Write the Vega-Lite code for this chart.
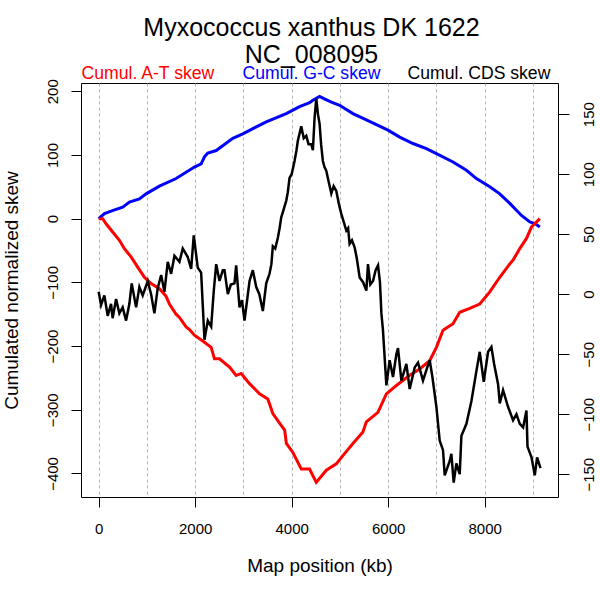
{
  "$schema": "https://vega.github.io/schema/vega-lite/v6.json",
  "width": 477,
  "height": 414,
  "autosize": {"type": "none"},
  "padding": {"left": 81, "top": 83, "right": 42, "bottom": 103},
  "background": "white",
  "title": {
    "text": ["Myxococcus xanthus DK 1622", "NC_008095"],
    "fontSize": 25,
    "fontWeight": "normal",
    "font": "Liberation Sans",
    "lineHeight": 27,
    "anchor": "middle",
    "color": "black",
    "dx": -8,
    "offset": -3
  },
  "datasets": {
    "gc": [
      {"pos": 0, "skew": 0}, {"pos": 120, "skew": 8}, {"pos": 300, "skew": 13}, {"pos": 498, "skew": 18},
      {"pos": 637, "skew": 26}, {"pos": 844, "skew": 31}, {"pos": 983, "skew": 39}, {"pos": 1259, "skew": 51},
      {"pos": 1605, "skew": 63}, {"pos": 1985, "skew": 81}, {"pos": 2124, "skew": 86}, {"pos": 2193, "skew": 97},
      {"pos": 2262, "skew": 103}, {"pos": 2436, "skew": 107}, {"pos": 2780, "skew": 126}, {"pos": 2988, "skew": 133},
      {"pos": 3266, "skew": 144}, {"pos": 3473, "skew": 152}, {"pos": 3888, "skew": 165}, {"pos": 4164, "skew": 176},
      {"pos": 4371, "skew": 182}, {"pos": 4440, "skew": 186}, {"pos": 4579, "skew": 192}, {"pos": 4680, "skew": 188},
      {"pos": 4822, "skew": 183}, {"pos": 4994, "skew": 178}, {"pos": 5270, "skew": 165}, {"pos": 5548, "skew": 155},
      {"pos": 5996, "skew": 139}, {"pos": 6239, "skew": 128}, {"pos": 6515, "skew": 118}, {"pos": 6792, "skew": 110},
      {"pos": 7000, "skew": 102}, {"pos": 7344, "skew": 89}, {"pos": 7622, "skew": 76}, {"pos": 7829, "skew": 63},
      {"pos": 8106, "skew": 50}, {"pos": 8313, "skew": 39}, {"pos": 8521, "skew": 24}, {"pos": 8763, "skew": 5},
      {"pos": 8936, "skew": -5}, {"pos": 9050, "skew": -8}, {"pos": 9143, "skew": -13}
    ],
    "at": [
      {"pos": 0, "skew": 0}, {"pos": 83, "skew": 0}, {"pos": 154, "skew": -8}, {"pos": 290, "skew": -21},
      {"pos": 430, "skew": -34}, {"pos": 533, "skew": -47}, {"pos": 672, "skew": -60}, {"pos": 809, "skew": -76},
      {"pos": 948, "skew": -92}, {"pos": 1087, "skew": -102}, {"pos": 1259, "skew": -110}, {"pos": 1398, "skew": -122},
      {"pos": 1467, "skew": -134}, {"pos": 1605, "skew": -150}, {"pos": 1674, "skew": -155}, {"pos": 1813, "skew": -170},
      {"pos": 1882, "skew": -174}, {"pos": 1985, "skew": -183}, {"pos": 2193, "skew": -194}, {"pos": 2332, "skew": -202},
      {"pos": 2400, "skew": -220}, {"pos": 2504, "skew": -220}, {"pos": 2712, "skew": -233}, {"pos": 2850, "skew": -246},
      {"pos": 2954, "skew": -243}, {"pos": 3127, "skew": -259}, {"pos": 3334, "skew": -275}, {"pos": 3506, "skew": -283},
      {"pos": 3610, "skew": -306}, {"pos": 3786, "skew": -325}, {"pos": 3855, "skew": -332}, {"pos": 3890, "skew": -353},
      {"pos": 4025, "skew": -367}, {"pos": 4199, "skew": -393}, {"pos": 4371, "skew": -393}, {"pos": 4510, "skew": -414},
      {"pos": 4718, "skew": -395}, {"pos": 4925, "skew": -385}, {"pos": 5062, "skew": -372}, {"pos": 5270, "skew": -353},
      {"pos": 5477, "skew": -335}, {"pos": 5548, "skew": -319}, {"pos": 5788, "skew": -304}, {"pos": 5963, "skew": -275},
      {"pos": 6170, "skew": -262}, {"pos": 6446, "skew": -246}, {"pos": 6654, "skew": -236}, {"pos": 6861, "skew": -223},
      {"pos": 7000, "skew": -202}, {"pos": 7137, "skew": -175}, {"pos": 7344, "skew": -165}, {"pos": 7483, "skew": -147},
      {"pos": 7690, "skew": -141}, {"pos": 7898, "skew": -134}, {"pos": 8106, "skew": -115}, {"pos": 8313, "skew": -92},
      {"pos": 8521, "skew": -71}, {"pos": 8589, "skew": -65}, {"pos": 8728, "skew": -47}, {"pos": 8867, "skew": -31},
      {"pos": 8971, "skew": -13}, {"pos": 9143, "skew": 0}
    ],
    "cds": [
      {"pos": 0, "skew": 2}, {"pos": 50, "skew": -9}, {"pos": 118, "skew": -1}, {"pos": 187, "skew": -18},
      {"pos": 257, "skew": -8}, {"pos": 290, "skew": -20}, {"pos": 361, "skew": -4}, {"pos": 429, "skew": -16},
      {"pos": 498, "skew": -11}, {"pos": 568, "skew": -22}, {"pos": 637, "skew": -8}, {"pos": 685, "skew": 9},
      {"pos": 776, "skew": -11}, {"pos": 844, "skew": 6}, {"pos": 913, "skew": -1}, {"pos": 1017, "skew": 11},
      {"pos": 1087, "skew": 0}, {"pos": 1155, "skew": -16}, {"pos": 1224, "skew": 5}, {"pos": 1295, "skew": 16},
      {"pos": 1363, "skew": 2}, {"pos": 1432, "skew": 27}, {"pos": 1502, "skew": 17}, {"pos": 1571, "skew": 32},
      {"pos": 1674, "skew": 27}, {"pos": 1743, "skew": 38}, {"pos": 1846, "skew": 31}, {"pos": 1917, "skew": 21},
      {"pos": 1971, "skew": 49}, {"pos": 2054, "skew": 22}, {"pos": 2124, "skew": 18}, {"pos": 2193, "skew": -38},
      {"pos": 2262, "skew": -22}, {"pos": 2332, "skew": -27}, {"pos": 2386, "skew": 3}, {"pos": 2436, "skew": 25},
      {"pos": 2504, "skew": 11}, {"pos": 2573, "skew": 20}, {"pos": 2608, "skew": 20}, {"pos": 2677, "skew": 0},
      {"pos": 2740, "skew": 8}, {"pos": 2815, "skew": 9}, {"pos": 2850, "skew": 24}, {"pos": 2919, "skew": -11},
      {"pos": 2970, "skew": -5}, {"pos": 3023, "skew": -22}, {"pos": 3127, "skew": 11}, {"pos": 3195, "skew": 20},
      {"pos": 3266, "skew": 6}, {"pos": 3330, "skew": 0}, {"pos": 3403, "skew": -14}, {"pos": 3473, "skew": 9},
      {"pos": 3541, "skew": 17}, {"pos": 3580, "skew": 25}, {"pos": 3610, "skew": 40}, {"pos": 3660, "skew": 38},
      {"pos": 3714, "skew": 47}, {"pos": 3750, "skew": 55}, {"pos": 3784, "skew": 64}, {"pos": 3830, "skew": 70},
      {"pos": 3888, "skew": 78}, {"pos": 3920, "skew": 85}, {"pos": 3956, "skew": 97}, {"pos": 4000, "skew": 100},
      {"pos": 4060, "skew": 111}, {"pos": 4100, "skew": 120}, {"pos": 4129, "skew": 128}, {"pos": 4199, "skew": 140},
      {"pos": 4250, "skew": 130}, {"pos": 4303, "skew": 132}, {"pos": 4350, "skew": 125}, {"pos": 4406, "skew": 125},
      {"pos": 4440, "skew": 120}, {"pos": 4475, "skew": 147}, {"pos": 4510, "skew": 163}, {"pos": 4545, "skew": 150},
      {"pos": 4579, "skew": 142}, {"pos": 4610, "skew": 125}, {"pos": 4647, "skew": 111}, {"pos": 4680, "skew": 106},
      {"pos": 4717, "skew": 103}, {"pos": 4760, "skew": 95}, {"pos": 4822, "skew": 84}, {"pos": 4870, "skew": 90},
      {"pos": 4925, "skew": 86}, {"pos": 4980, "skew": 75}, {"pos": 5029, "skew": 67}, {"pos": 5080, "skew": 60},
      {"pos": 5133, "skew": 53}, {"pos": 5170, "skew": 55}, {"pos": 5201, "skew": 42}, {"pos": 5250, "skew": 45},
      {"pos": 5305, "skew": 39}, {"pos": 5350, "skew": 30}, {"pos": 5409, "skew": 14}, {"pos": 5480, "skew": 10},
      {"pos": 5548, "skew": 3}, {"pos": 5582, "skew": 25}, {"pos": 5630, "skew": 8}, {"pos": 5686, "skew": 11},
      {"pos": 5740, "skew": 20}, {"pos": 5790, "skew": 24}, {"pos": 5830, "skew": 10}, {"pos": 5860, "skew": -16},
      {"pos": 5892, "skew": -30}, {"pos": 5963, "skew": -76}, {"pos": 6031, "skew": -55}, {"pos": 6100, "skew": -69},
      {"pos": 6170, "skew": -50}, {"pos": 6204, "skew": -45}, {"pos": 6274, "skew": -72}, {"pos": 6377, "skew": -58},
      {"pos": 6446, "skew": -79}, {"pos": 6550, "skew": -61}, {"pos": 6619, "skew": -57}, {"pos": 6722, "skew": -72},
      {"pos": 6826, "skew": -59}, {"pos": 6861, "skew": -55}, {"pos": 6917, "skew": -69}, {"pos": 7000, "skew": -94},
      {"pos": 7068, "skew": -122}, {"pos": 7137, "skew": -130}, {"pos": 7172, "skew": -151}, {"pos": 7276, "skew": -139},
      {"pos": 7310, "skew": -133}, {"pos": 7358, "skew": -157}, {"pos": 7414, "skew": -141}, {"pos": 7483, "skew": -150},
      {"pos": 7518, "skew": -118}, {"pos": 7622, "skew": -108}, {"pos": 7726, "skew": -89}, {"pos": 7829, "skew": -64},
      {"pos": 7898, "skew": -48}, {"pos": 7981, "skew": -73}, {"pos": 8071, "skew": -48}, {"pos": 8140, "skew": -44},
      {"pos": 8195, "skew": -58}, {"pos": 8278, "skew": -75}, {"pos": 8313, "skew": -91}, {"pos": 8382, "skew": -80},
      {"pos": 8486, "skew": -94}, {"pos": 8589, "skew": -105}, {"pos": 8659, "skew": -100}, {"pos": 8728, "skew": -108},
      {"pos": 8797, "skew": -111}, {"pos": 8866, "skew": -97}, {"pos": 8888, "skew": -127}, {"pos": 8971, "skew": -136},
      {"pos": 9039, "skew": -151}, {"pos": 9087, "skew": -136}, {"pos": 9157, "skew": -145}
    ]
  },
  "encoding": {
    "x": {
      "field": "pos",
      "type": "quantitative",
      "scale": {"domain": [-366, 9520], "nice": false, "zero": false},
      "axis": {
        "values": [0, 1000, 2000, 3000, 4000, 5000, 6000, 7000, 8000, 9000],
        "format": "d",
        "labelExpr": "datum.value % 2000 === 0 ? datum.label : ''",
        "tickOpacity": {"condition": {"test": "datum.value % 2000 === 0", "value": 1}, "value": 0},
        "grid": true,
        "gridDash": [3, 3],
        "gridColor": "#b4b4b4",
        "domain": false,
        "tickSize": 10,
        "labelPadding": 14,
        "title": "Map position (kb)",
        "titlePadding": 20
      }
    }
  },
  "layer": [
    {
      "data": {"name": "gc"},
      "mark": {"type": "line", "strokeWidth": 3},
      "encoding": {
        "y": {
          "field": "skew",
          "type": "quantitative",
          "scale": {"domain": [-437, 213], "nice": false, "zero": false},
          "axis": {
            "values": [-400, -300, -200, -100, 0, 100, 200],
            "labelAngle": -90,
            "labelAlign": "center",
            "labelBaseline": "bottom",
            "grid": false,
            "domain": false,
            "tickSize": 10,
            "labelPadding": 11,
            "title": "Cumulated normalized skew",
            "titlePadding": 24
          }
        },
        "color": {
          "datum": "Cumul. G-C skew",
          "type": "nominal",
          "scale": {
            "domain": ["Cumul. A-T skew", "Cumul. G-C skew", "Cumul. CDS skew"],
            "range": ["#ff0000", "#0000ff", "#000000"]
          },
          "legend": {
            "orient": "none",
            "legendX": -17,
            "legendY": -18,
            "direction": "horizontal",
            "title": null,
            "symbolSize": 0,
            "symbolStrokeWidth": 0,
            "symbolOpacity": 0,
            "labelOffset": 0,
            "columnPadding": 9,
            "labelFontSize": 17.6,
            "labelLimit": 300,
            "encode": {"labels": {"update": {"fill": {"scale": "color", "field": "value"}}}}
          }
        }
      }
    },
    {
      "data": {"name": "at"},
      "mark": {"type": "line", "strokeWidth": 3},
      "encoding": {
        "y": {
          "field": "skew",
          "type": "quantitative",
          "scale": {"domain": [-437, 213], "nice": false, "zero": false},
          "axis": null
        },
        "color": {"datum": "Cumul. A-T skew", "type": "nominal"}
      }
    },
    {
      "data": {"name": "cds"},
      "mark": {"type": "line", "strokeWidth": 2.5},
      "encoding": {
        "y": {
          "field": "skew",
          "type": "quantitative",
          "scale": {"domain": [-169, 176], "nice": false, "zero": false},
          "axis": {
            "orient": "right",
            "values": [-150, -100, -50, 0, 50, 100, 150],
            "labelAngle": -90,
            "labelAlign": "center",
            "labelBaseline": "top",
            "grid": false,
            "domain": false,
            "tickSize": 11,
            "labelPadding": 12,
            "title": null
          }
        },
        "color": {"datum": "Cumul. CDS skew", "type": "nominal"}
      }
    }
  ],
  "resolve": {"scale": {"y": "independent"}},
  "config": {
    "font": "Liberation Sans",
    "view": {"stroke": "black", "strokeWidth": 1},
    "axis": {
      "labelFontSize": 15,
      "labelColor": "black",
      "tickColor": "black",
      "titleFontSize": 19,
      "titleFontWeight": "normal",
      "titleColor": "black"
    }
  }
}
